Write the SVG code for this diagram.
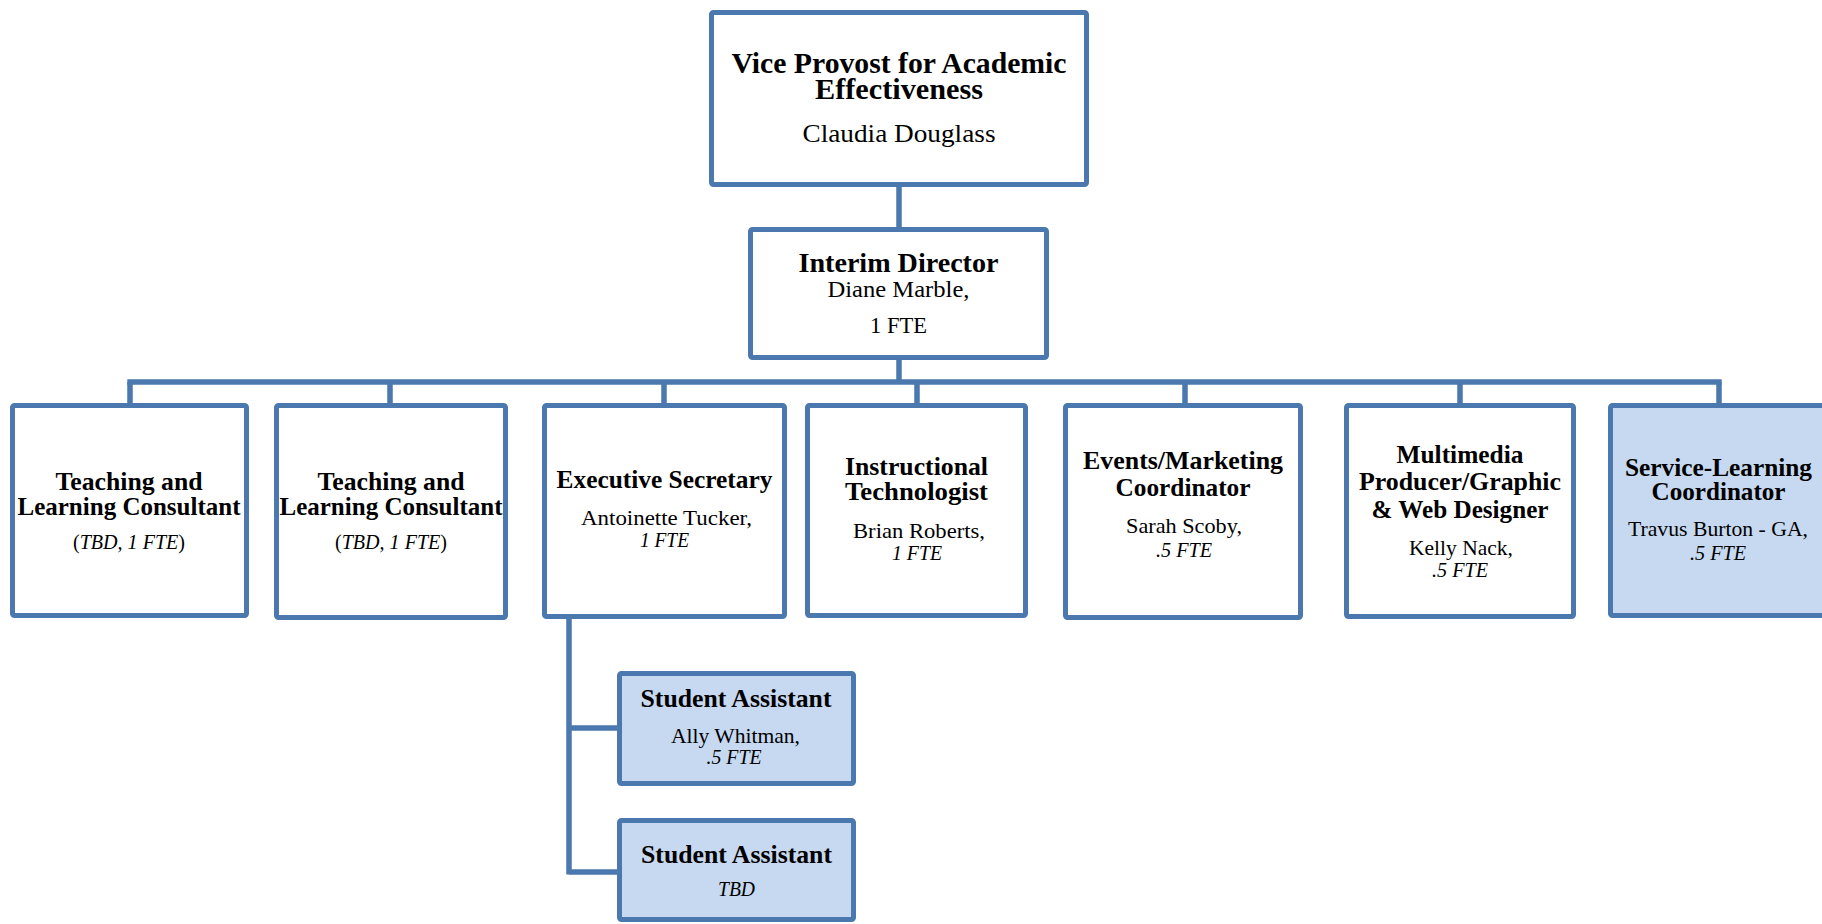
<svg xmlns="http://www.w3.org/2000/svg" width="1822" height="924" viewBox="0 0 1822 924">
<style>
.box{fill:#ffffff;stroke:#4A78AF;stroke-width:5;}
.blue{fill:#C6D9F0;}
.conn{stroke:#4A78AF;stroke-width:5.5;fill:none;stroke-linecap:butt;}
text{font-family:"Liberation Serif","DejaVu Serif",serif;fill:#000;text-anchor:middle;}
.b{font-weight:bold;font-size:25px;}
.r{font-size:22px;}
.i{font-size:22px;font-style:italic;}
</style>
<rect width="1822" height="924" fill="#ffffff"/>
<g id="connectors">
<path class="conn" d="M899 187 V227"/>
<path class="conn" d="M899 360 V382"/>
<path class="conn" d="M127.3 382 H1721.7"/>
<path class="conn" d="M130 382 V403 M390 382 V403 M664 382 V403 M917 382 V403 M1185 382 V403 M1460 382 V403 M1719 382 V403"/>
<path class="conn" d="M569 619 V874.5 M569 728 H617 M569 872 H617"/>
</g>
<g id="vp">
<rect class="box" x="711.5" y="12.5" width="375" height="172" rx="2"/>
<text class="b" x="899" y="73" style="font-size:29.5px" textLength="335" lengthAdjust="spacingAndGlyphs">Vice Provost for Academic</text>
<text class="b" x="899" y="99" style="font-size:29.5px" textLength="168" lengthAdjust="spacingAndGlyphs">Effectiveness</text>
<text class="r" x="899" y="142" style="font-size:25px" textLength="193" lengthAdjust="spacingAndGlyphs">Claudia Douglass</text>
</g>
<g id="director">
<rect class="box" x="750.5" y="229.5" width="296" height="128" rx="2"/>
<text class="b" x="898.5" y="272" style="font-size:28px" textLength="200" lengthAdjust="spacingAndGlyphs">Interim Director</text>
<text class="r" x="898.5" y="297" style="font-size:23.5px" textLength="142" lengthAdjust="spacingAndGlyphs">Diane Marble,</text>
<text class="r" x="898.5" y="333" style="font-size:23.5px" textLength="57" lengthAdjust="spacingAndGlyphs">1 FTE</text>
</g>
<g id="tlc1">
<rect class="box" x="12.5" y="405.5" width="234" height="210" rx="2"/>
<text class="b" x="129" y="490" textLength="147" lengthAdjust="spacingAndGlyphs">Teaching and</text>
<text class="b" x="129" y="515" textLength="223" lengthAdjust="spacingAndGlyphs">Learning Consultant</text>
<text class="r" x="129" y="549" textLength="112" lengthAdjust="spacingAndGlyphs">(<tspan font-style="italic">TBD, 1 FTE</tspan>)</text>
</g>
<g id="tlc2">
<rect class="box" x="276.5" y="405.5" width="229" height="212" rx="2"/>
<text class="b" x="391" y="490" textLength="147" lengthAdjust="spacingAndGlyphs">Teaching and</text>
<text class="b" x="391" y="515" textLength="223" lengthAdjust="spacingAndGlyphs">Learning Consultant</text>
<text class="r" x="391" y="549" textLength="112" lengthAdjust="spacingAndGlyphs">(<tspan font-style="italic">TBD, 1 FTE</tspan>)</text>
</g>
<g id="exec">
<rect class="box" x="544.5" y="405.5" width="240" height="211" rx="2"/>
<text class="b" x="664.5" y="488" textLength="216" lengthAdjust="spacingAndGlyphs">Executive Secretary</text>
<text class="r" x="666.5" y="525" textLength="171" lengthAdjust="spacingAndGlyphs">Antoinette Tucker,</text>
<text class="i" x="664.5" y="547" textLength="49" lengthAdjust="spacingAndGlyphs">1 FTE</text>
</g>
<g id="instr">
<rect class="box" x="807.5" y="405.5" width="218" height="210" rx="2"/>
<text class="b" x="916.5" y="475" textLength="143" lengthAdjust="spacingAndGlyphs">Instructional</text>
<text class="b" x="916.5" y="500" textLength="143" lengthAdjust="spacingAndGlyphs">Technologist</text>
<text class="r" x="919" y="538" textLength="132" lengthAdjust="spacingAndGlyphs">Brian Roberts,</text>
<text class="i" x="917" y="560" textLength="50" lengthAdjust="spacingAndGlyphs">1 FTE</text>
</g>
<g id="events">
<rect class="box" x="1065.5" y="405.5" width="235" height="212" rx="2"/>
<text class="b" x="1183" y="469" textLength="200" lengthAdjust="spacingAndGlyphs">Events/Marketing</text>
<text class="b" x="1183" y="496" textLength="135" lengthAdjust="spacingAndGlyphs">Coordinator</text>
<text class="r" x="1184" y="533" textLength="116" lengthAdjust="spacingAndGlyphs">Sarah Scoby,</text>
<text class="i" x="1184" y="557" textLength="56" lengthAdjust="spacingAndGlyphs">.5 FTE</text>
</g>
<g id="multimedia">
<rect class="box" x="1346.5" y="405.5" width="227" height="211" rx="2"/>
<text class="b" x="1460" y="463" textLength="127" lengthAdjust="spacingAndGlyphs">Multimedia</text>
<text class="b" x="1460" y="490" textLength="202" lengthAdjust="spacingAndGlyphs">Producer/Graphic</text>
<text class="b" x="1460" y="518" textLength="177" lengthAdjust="spacingAndGlyphs">&amp; Web Designer</text>
<text class="r" x="1461" y="555" textLength="104" lengthAdjust="spacingAndGlyphs">Kelly Nack,</text>
<text class="i" x="1460" y="577" textLength="56" lengthAdjust="spacingAndGlyphs">.5 FTE</text>
</g>
<g id="service">
<rect class="box blue" x="1610.5" y="405.5" width="217" height="210" rx="2"/>
<text class="b" x="1718.5" y="476" textLength="187" lengthAdjust="spacingAndGlyphs">Service-Learning</text>
<text class="b" x="1718.5" y="500" textLength="134" lengthAdjust="spacingAndGlyphs">Coordinator</text>
<text class="r" x="1718" y="536" textLength="180" lengthAdjust="spacingAndGlyphs">Travus Burton - GA,</text>
<text class="i" x="1718" y="560" textLength="56" lengthAdjust="spacingAndGlyphs">.5 FTE</text>
</g>
<g id="student1">
<rect class="box blue" x="619.5" y="673.5" width="234" height="110" rx="2"/>
<text class="b" x="736" y="707" textLength="191" lengthAdjust="spacingAndGlyphs">Student Assistant</text>
<text class="r" x="735.5" y="743" textLength="129" lengthAdjust="spacingAndGlyphs">Ally Whitman,</text>
<text class="i" x="734" y="764" textLength="55" lengthAdjust="spacingAndGlyphs">.5 FTE</text>
</g>
<g id="student2">
<rect class="box blue" x="619.5" y="820.5" width="234" height="99" rx="2"/>
<text class="b" x="736.5" y="863" textLength="191" lengthAdjust="spacingAndGlyphs">Student Assistant</text>
<text class="i" x="736.5" y="896" textLength="37" lengthAdjust="spacingAndGlyphs">TBD</text>
</g>
</svg>
